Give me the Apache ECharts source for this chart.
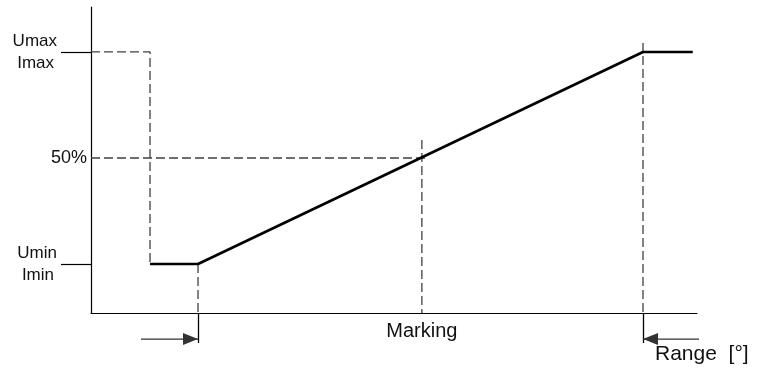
<!DOCTYPE html>
<html>
<head>
<meta charset="utf-8">
<script src="https://cdn.jsdelivr.net/npm/echarts@6/dist/echarts.min.js"></script>
<style>html,body{margin:0;padding:0;background:#fff}#c{width:767px;height:374px}</style>
</head>
<body>
<div id="c"></div>
<script>
// ---- data (relative units: level 0 = Umin, 100 = Umax; x in % of range axis) ----
const levelValues = [0, 50, 100];
const levelLabels = ['Umin\nImin', '50%', 'Umax\nImax'];
const curveX = [9.74, 17.66, 91.09, 99.3];
const curveY = [0, 0, 100, 100];
const rangeStartX = 17.66;
const rangeEndX = 91.09;
const markingX = 54.6;
const markingLabel = 'Marking';
const rangeLabel = 'Range  [°]';
const yMin = -23.1, yMax = 121.2;
const xMin = 0, xMax = 100;
const arrowY = -35.38;
const arrowLeftStart = 8.25;
const arrowRightStart = 100.7;
const stepDash = [[0, 100], [9.74, 100], [9.74, 0]];
const startDash = [[rangeStartX, 0], [rangeStartX, yMin]];
const halfDashH = [[0, 50], [55.3, 50]];
const halfDashV = [[markingX, 58.5], [markingX, yMin]];
const endDash = [[rangeEndX, 104.2], [rangeEndX, yMin]];

const chart = echarts.init(document.getElementById('c'));
const FONT = '"Liberation Sans", Arial, sans-serif';
const dashStyle = { color: '#404040', width: 1.3, type: [9, 4] };
function dashSeries(data) {
  return { type: 'line', data: data, symbol: 'none', clip: false, silent: true,
           lineStyle: dashStyle, z: 1 };
}
const curve = curveX.map((x, i) => [x, curveY[i]]);

chart.setOption({
  animation: false,
  backgroundColor: '#fff',
  title: {
    text: rangeLabel, left: 655, top: 344, padding: 0,
    textStyle: { fontFamily: FONT, fontSize: 21, fontWeight: 'normal', color: '#111' }
  },
  grid: { left: 91, right: 70, top: 7, bottom: 61, outerBoundsMode: 'none' },
  xAxis: {
    type: 'value', min: xMin, max: xMax,
    axisLine: { show: true, onZero: false, lineStyle: { color: '#000', width: 1.2 } },
    splitLine: { show: false },
    axisTick: { show: true, customValues: [rangeStartX, rangeEndX], length: 30,
                lineStyle: { color: '#000', width: 1.3 } },
    axisLabel: { show: true, customValues: [markingX], formatter: () => markingLabel,
                 margin: 8, fontFamily: FONT, fontSize: 20, color: '#111' }
  },
  yAxis: {
    type: 'value', min: yMin, max: yMax,
    axisLine: { show: true, onZero: false, lineStyle: { color: '#000', width: 1.2 } },
    splitLine: { show: false },
    axisTick: { show: true, customValues: [0, 100], length: 30,
                lineStyle: { color: '#000', width: 1.2 } },
    axisLabel: {
      show: true, customValues: levelValues, margin: 4, align: 'right',
      formatter: function (v) {
        const lab = levelLabels[levelValues.indexOf(v)];
        if (lab.indexOf('\n') < 0) return '{p|' + lab + '}';
        const parts = lab.split('\n');
        return '{u|' + parts[0] + '}\n{i|' + parts[1] + '}';
      },
      rich: {
        p: { fontFamily: FONT, fontSize: 18, color: '#111' },
        u: { fontFamily: FONT, fontSize: 17, color: '#111', lineHeight: 22, padding: [0, 30, 0, 0] },
        i: { fontFamily: FONT, fontSize: 17, color: '#111', lineHeight: 22, padding: [0, 33, 0, 0] }
      }
    }
  },
  series: [
    dashSeries(stepDash),
    dashSeries(startDash),
    dashSeries(halfDashH),
    dashSeries(halfDashV),
    dashSeries(endDash),
    { type: 'line', data: curve, symbol: 'none', clip: false, silent: true,
      lineStyle: { color: '#000', width: 2.6 }, z: 3 },
    { type: 'line', data: [[arrowLeftStart, arrowY], [rangeStartX, arrowY]], symbol: 'none',
      clip: false, silent: true, lineStyle: { color: '#333', width: 1.3 } },
    { type: 'line', data: [[arrowRightStart, arrowY], [rangeEndX, arrowY]], symbol: 'none',
      clip: false, silent: true, lineStyle: { color: '#333', width: 1.3 } },
    { type: 'scatter', clip: false, silent: true, symbol: 'triangle', symbolSize: [12, 15],
      symbolRotate: -90, symbolOffset: [-7.5, 0], itemStyle: { color: '#000' },
      data: [[rangeStartX, arrowY]] },
    { type: 'scatter', clip: false, silent: true, symbol: 'triangle', symbolSize: [12, 15],
      symbolRotate: 90, symbolOffset: [7.5, 0], itemStyle: { color: '#000' },
      data: [[rangeEndX, arrowY]] }
  ]
});
</script>
</body>
</html>
